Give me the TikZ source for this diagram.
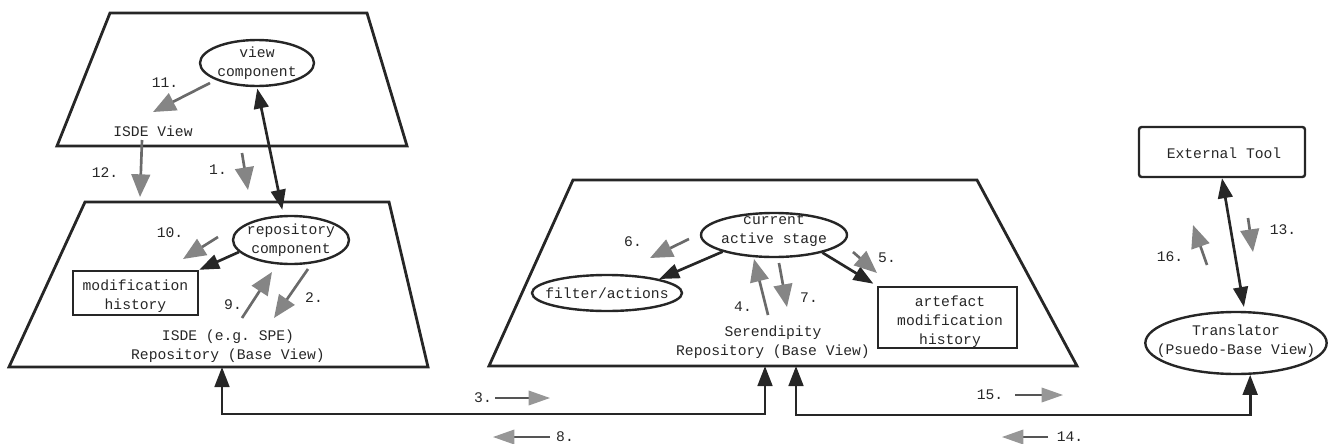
\documentclass[tikz,border=0pt]{standalone}
\usepackage{fontspec}
\setmonofont{Liberation Mono}
\usetikzlibrary{arrows.meta,shapes.geometric}
\definecolor{ink}{HTML}{262626}
\definecolor{flowgray}{HTML}{6A6A6A}
\definecolor{headgray}{HTML}{858585}
\tikzset{
  plane/.style={draw=ink, line width=2.1pt, line join=miter},
  lbl/.style={font=\ttfamily\fontsize{11}{14.2}\selectfont, text=ink, inner sep=0pt, align=center},
  oval/.style={ellipse, draw=ink, line width=1.8pt, inner sep=0pt},
  boxnode/.style={rectangle, draw=ink, line width=1.8pt, inner sep=0pt},
  link/.style={draw=ink, line width=2pt, -{Triangle[length=15pt,width=11pt]}},
  duplex/.style={draw=ink, line width=2pt, {Triangle[length=15pt,width=11pt]}-{Triangle[length=15pt,width=11pt]}},
  flow/.style={draw=flowgray, line width=2pt, -{Triangle[length=17pt,width=14pt,color=headgray]}},
  thinflow/.style={draw=flowgray!80!black, line width=1pt, -{Triangle[length=16pt,width=11pt,color=headgray!85]}},
}
\begin{document}
\begin{tikzpicture}[x=0.75pt,y=-0.75pt]
\useasboundingbox (0,0) rectangle (1328,443);

% ---- planes ----
\draw[plane] (110,13) -- (367,13) -- (407,146) -- (57,146) -- cycle;
\draw[plane] (85,202) -- (389,202) -- (428,367) -- (9,367) -- cycle;
\draw[plane] (573,180) -- (977,180) -- (1077,366) -- (489,366) -- cycle;

% ---- ISDE view plane ----
\node[oval, minimum width=85.5pt, minimum height=34.5pt] (vc) at (257,63) {};
\node[lbl] (vctext) at (vc) {view\\component};
\node[lbl] (isdeview) at (153,131) {ISDE View};
\node[lbl] (l11) at (165,83) {11.};

% ---- ISDE repository plane ----
\node[oval, minimum width=87pt, minimum height=36pt] (rc) at (291,240) {};
\node[lbl] (rctext) at (rc) {repository\\component};
\node[boxnode, minimum width=93.75pt, minimum height=33pt] (mh) at (135.5,293) {};
\node[lbl] (mhtext) at (135.5,296) {modification\\history};
\node[lbl] (isderepo) at (228,346) {ISDE (e.g. SPE)\\Repository (Base View)};
\node[lbl] (l10) at (170,233) {10.};
\node[lbl] (l9) at (233,305) {9.};
\node[lbl] (l2) at (314,298) {2.};
\node[lbl] (l12) at (105,173) {12.};
\node[lbl] (l1) at (218,170) {1.};

% ---- Serendipity plane ----
\node[oval, minimum width=109.5pt, minimum height=33pt] (cs) at (774,235) {};
\node[lbl] (cstext) at (774,231) {current\\active stage};
\node[oval, minimum width=112.5pt, minimum height=27pt] (fa) at (607,293) {};
\node[lbl] (fatext) at (fa) {filter/actions};
\node[boxnode, minimum width=104.25pt, minimum height=45.75pt] (art) at (947.5,317.5) {};
\node[lbl] (arttext) at (950,322) {artefact\\modification\\history};
\node[lbl] (serrepo) at (773,342.5) {Serendipity\\Repository (Base View)};
\node[lbl] (l6) at (633,242) {6.};
\node[lbl] (l4) at (743,307) {4.};
\node[lbl] (l7) at (809,298) {7.};
\node[lbl] (l5) at (887,258) {5.};

% ---- external tool side ----
\node[boxnode, rounded corners=2pt, minimum width=124.5pt, minimum height=37.5pt] (et) at (1222,152) {};
\node[lbl] (ettext) at (1224,153) {External Tool};
\node[oval, minimum width=136pt, minimum height=46.5pt] (tr) at (1236,343) {};
\node[lbl] (trtext) at (1236,341.5) {Translator\\(Psuedo-Base View)};
\node[lbl] (l13) at (1283,230) {13.};
\node[lbl] (l16) at (1170,257) {16.};

% ---- bottom flow labels ----
\node[lbl] (l3) at (483,398) {3.};
\node[lbl] (l8) at (565,437) {8.};
\node[lbl] (l15) at (990,395) {15.};
\node[lbl] (l14) at (1070,437) {14.};

% ---- attachment points on the planes ----
\coordinate (isdebase) at (222,367);
\coordinate (serbaseL) at (765,366);
\coordinate (serbaseR) at (796,366);

% ---- structural connectors ----
\draw[duplex, shorten <=1pt, shorten >=4pt] (vc.south) -- (rc.107);
\draw[link] (rc.193) -- (mh.north east);
\draw[link] (cs.198) -- (fa.15);
\draw[link, shorten >=3pt] (cs.340) -- (art.north west);
\draw[duplex, shorten >=3pt] (et.south) -- (tr.75);
\draw[duplex] (isdebase) -- ++(0,47) -| (serbaseL);
\draw[duplex] (serbaseR) -- ++(0,49) -| (tr.294);

% ---- information flows ----
\coordinate (f11a) at (210,83);  \coordinate (f11b) at (153,112);
\coordinate (f12a) at (142,140); \coordinate (f12b) at (140,197);
\coordinate (f1a) at (242,153);  \coordinate (f1b) at (248,190);
\coordinate (f10a) at (218,237); \coordinate (f10b) at (183,259);
\coordinate (f9a) at (242,318);  \coordinate (f9b) at (272,272);
\coordinate (f2a) at (308,269);  \coordinate (f2b) at (274,318);
\coordinate (f6a) at (689,239);  \coordinate (f6b) at (650,258);
\coordinate (f4a) at (768,315);  \coordinate (f4b) at (754,259);
\coordinate (f7a) at (779,263);  \coordinate (f7b) at (787,307);
\coordinate (f5a) at (853,252);  \coordinate (f5b) at (877,273);
\coordinate (f13a) at (1248,218); \coordinate (f13b) at (1253,252);
\coordinate (f16a) at (1207,265); \coordinate (f16b) at (1193,225);
\coordinate (f3a) at (495,398);  \coordinate (f3b) at (550,398);
\coordinate (f8a) at (550,437);  \coordinate (f8b) at (493,437);
\coordinate (f15a) at (1015,395); \coordinate (f15b) at (1063,395);
\coordinate (f14a) at (1048,437); \coordinate (f14b) at (1002,437);

\foreach \f in {11,12,1,10,9,2,6,4,7,5,13,16}
  \draw[flow] (f\f a) -- (f\f b);
\foreach \f in {3,8,15,14}
  \draw[thinflow] (f\f a) -- (f\f b);
\end{tikzpicture}
\end{document}
